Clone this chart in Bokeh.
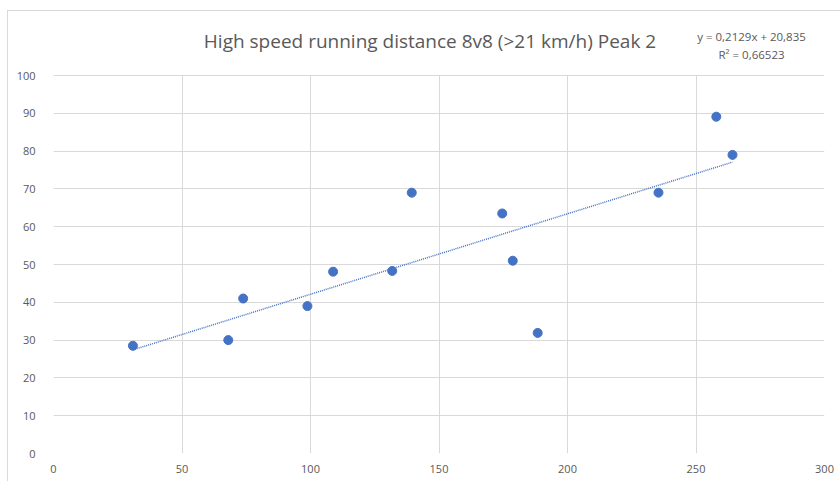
from bokeh.plotting import figure
from bokeh.models import Range1d, FixedTicker, Label
from bokeh.embed import file_html
from bokeh.resources import INLINE

# Data
x_vals = [30.9, 68.0, 73.8, 98.8, 108.8, 131.8, 139.4, 174.6, 178.7, 188.4, 235.4, 257.9, 264.2]
y_vals = [28.5, 30.0, 41.0, 39.0, 48.1, 48.3, 69.0, 63.5, 51.0, 31.9, 69.0, 89.1, 79.0]
x_ticks = [0, 50, 100, 150, 200, 250, 300]
y_ticks = [0, 10, 20, 30, 40, 50, 60, 70, 80, 90, 100]
slope = 0.2129
intercept = 20.835
title_text = "High speed running distance 8v8 (>21 km/h) Peak 2"
eq_text = "y = 0,2129x + 20,835"
r2_text = "R² = 0,66523"

FONT = "Open Sans"
GRAY = "#595959"
BLUE = "#4472C4"
GRID = "#d9d9d9"

# frame extends above 100 so that the title texts sit inside it
top_border = 8
bottom_border = 29
H = 471
y_top = 100 * (H - bottom_border - top_border) / (H - bottom_border - 64)

p = figure(width=833, height=H, output_backend="svg", toolbar_location=None,
           x_range=Range1d(0, 300), y_range=Range1d(0, y_top),
           min_border_left=45, min_border_right=17, min_border_top=top_border,
           min_border_bottom=bottom_border)
p.margin = (10, 0, 0, 7)

p.xaxis.ticker = FixedTicker(ticks=x_ticks)
p.yaxis.ticker = FixedTicker(ticks=y_ticks)
for ax in (p.xaxis[0], p.yaxis[0]):
    ax.axis_line_color = None
    ax.major_tick_line_color = None
    ax.minor_tick_line_color = None
    ax.major_label_text_color = GRAY
    ax.major_label_text_font = FONT
    ax.major_label_text_font_size = "11px"
p.yaxis.major_label_standoff = 12
p.xaxis.major_label_standoff = 5

p.xgrid.ticker = FixedTicker(ticks=x_ticks)
p.ygrid.ticker = FixedTicker(ticks=y_ticks)
p.xgrid.grid_line_color = GRID
p.ygrid.grid_line_color = GRID
p.xgrid.cross_bounds = (0, 100)
p.outline_line_color = None

# trendline
x0, x1 = min(x_vals), max(x_vals)
p.line([x0, x1], [slope * x0 + intercept, slope * x1 + intercept],
       line_color=BLUE, line_width=1.5, line_dash="1 1")

p.scatter(x_vals, y_vals, size=9, fill_color=BLUE, line_color=BLUE)

p.add_layout(Label(x=146.5, y=109.0, text=title_text,
                   text_font=FONT, text_font_size="19px", text_color=GRAY,
                   text_align="center", text_baseline="middle"))
p.add_layout(Label(x=271.6, y=110.3, text=eq_text,
                   text_font=FONT, text_font_size="11.5px", text_color=GRAY,
                   text_align="center", text_baseline="middle"))
p.add_layout(Label(x=271.6, y=105.6, text=r2_text,
                   text_font=FONT, text_font_size="11.5px", text_color=GRAY,
                   text_align="center", text_baseline="middle"))

p.styles = {"border-top": "1px solid #d9d9d9", "border-left": "1px solid #d9d9d9"}

open("out.html", "w").write(file_html(p, INLINE))
